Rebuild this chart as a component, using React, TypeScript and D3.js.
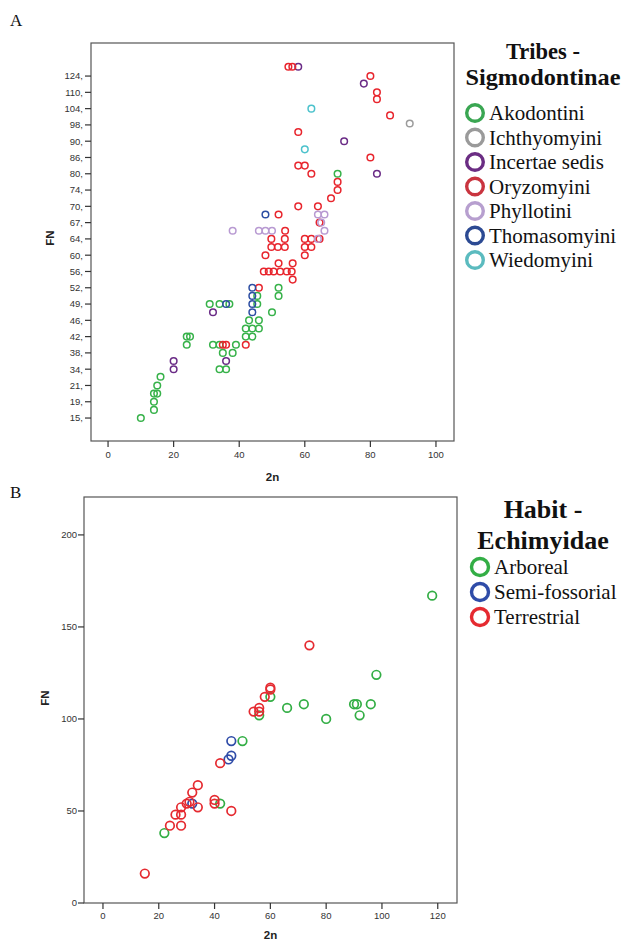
import React from "react";
import * as d3 from "d3";

// ---------- DATA ----------
// Panel A: FN axis is an ordinal (category) axis
const fnCategoriesA = [15, 19, 21, 34, 38, 42, 46, 49, 52, 56, 60, 64, 67, 70, 74, 80, 86, 90, 98, 104, 110, 124];
const fnTickLabelsA = ["15,", "19,", "21,", "34,", "38,", "42,", "46,", "49,", "52,", "56,", "60,", "64,", "67,", "70,", "74,", "80,", "86,", "90,", "98,", "104,", "110,", "124,"];
const xTicksA = [0, 20, 40, 60, 80, 100];

const tribes = ["Akodontini", "Ichthyomyini", "Incertae sedis", "Oryzomyini", "Phyllotini", "Thomasomyini", "Wiedomyini"];

// [2n, FN]
const akodontini: [number, number][] = [
  [10, 15], [14, 17], [14, 19], [14, 20], [15, 20], [15, 21], [16, 28],
  [24, 40], [24, 42], [25, 42],
  [31, 49], [34, 49], [37, 49],
  [32, 40], [34, 40], [39, 40], [35, 38], [38, 38], [34, 34], [36, 34],
  [42, 42], [44, 42], [42, 44], [44, 44], [46, 44], [43, 46], [46, 46], [45.5, 49], [45.5, 50.5],
  [50, 47.5], [52, 52], [52, 50.5],
  [70, 80],
];
const ichthyomyini: [number, number][] = [[92, 98.5]];
const incertaeSedis: [number, number][] = [
  [20, 34], [20, 36], [32, 47.5], [36, 36], [58, 132], [78, 117.5], [72, 90], [82, 80],
];
const oryzomyini: [number, number][] = [
  [35, 40], [36, 40], [42, 40], [46, 52],
  [47.5, 56], [49, 56], [50.5, 56], [52.5, 56], [54.5, 56], [56, 56], [56.3, 54], [52, 58], [56.3, 58], [48, 60],
  [49.8, 64], [53.9, 64], [49.8, 62], [51.8, 62], [53.9, 62], [54, 65.5],
  [60, 64], [62, 64], [60, 62], [62, 62], [60, 60], [64.5, 64], [64.5, 67],
  [52, 68.5], [58, 70], [64, 70], [68, 72], [70, 74], [70, 77],
  [62, 80], [58, 83], [60, 83], [80, 86], [58, 94.5],
  [55, 132], [56.2, 132], [80, 124], [82, 110], [82, 107.5], [86, 101.5],
];
const phyllotini: [number, number][] = [
  [38, 65.5], [46, 65.5], [48, 65.5], [50, 65.5], [64, 68.5], [66, 68.5], [65, 67], [66, 65.5], [64, 64],
];
const thomasomyini: [number, number][] = [[36, 49], [44, 52], [44, 50.5], [44, 49], [44, 47.5], [48, 68.5]];
const wiedomyini: [number, number][] = [[62, 104], [60, 88]];

const tribeSeries = [akodontini, ichthyomyini, incertaeSedis, oryzomyini, phyllotini, thomasomyini, wiedomyini];

// Panel B
const xTicksB = [0, 20, 40, 60, 80, 100, 120];
const yTicksB = [0, 50, 100, 150, 200];
const habits = ["Arboreal", "Semi-fossorial", "Terrestrial"];
const arboreal: [number, number][] = [
  [22, 38], [42, 54], [50, 88], [56, 102], [60, 112], [66, 106], [72, 108], [80, 100],
  [90, 108], [91, 108], [92, 102], [96, 108], [98, 124], [118, 167],
];
const semiFossorial: [number, number][] = [[32, 54], [45, 78], [46, 80], [46, 88]];
const terrestrial: [number, number][] = [
  [15, 16], [24, 42], [28, 42], [26, 48], [28, 48], [28, 52], [30, 54], [31, 55], [32, 60], [34, 64], [34, 52],
  [40, 56], [40, 54], [46, 50], [42, 76], [54, 104], [56, 104], [56, 106], [58, 112], [60, 116], [60, 117], [74, 140],
];
const habitSeries = [arboreal, semiFossorial, terrestrial];

// ---------- STYLE ----------
const tribeColors = ["#37b24a", "#9c9c9c", "#6a2b86", "#e8252d", "#b89ad2", "#2d4ea3", "#4cc2cc"];
const tribeLegendColors = ["#3aa652", "#9a9a9a", "#6b2d83", "#c9343f", "#b79fcf", "#2c4a93", "#5bbbbf"];
const habitColors = ["#33ae45", "#2f4ca8", "#e52a30"];
const SANS = "'Liberation Sans', Arial, sans-serif";
const SERIF = "'Liberation Serif', 'Times New Roman', serif";
const FRAME = "#555";

export default function App() {
  // Panel A scales
  const boxA = { l: 91, r: 454, t: 43, b: 441 };
  const xA = d3.scaleLinear().domain([-5.2, 105.5]).range([boxA.l, boxA.r]);
  const rankA = d3.scaleLinear().domain(fnCategoriesA).range(fnCategoriesA.map((_, i) => i));
  const posA = d3.scaleLinear().domain([-1.41, 23.03]).range([boxA.b, boxA.t]);
  const yA = (v: number) => posA(rankA(v));

  // Panel B scales
  const boxB = { l: 84, r: 457, t: 497, b: 903 };
  const xB = d3.scaleLinear().domain([-6.8, 126.9]).range([boxB.l, boxB.r]);
  const yB = d3.scaleLinear().domain([0, 220.6]).range([boxB.b, boxB.t]);

  return (
    <svg width={622} height={942} viewBox="0 0 622 942"
      style={{ position: "absolute", left: 0, top: 0, background: "#fff", display: "block" }}>
      <rect x={0} y={0} width={622} height={942} fill="#fff" />

      {/* ===== Panel A ===== */}
      <text x={10} y={26} fontFamily={SERIF} fontSize={17} fill="#111">A</text>
      <rect x={boxA.l} y={boxA.t} width={boxA.r - boxA.l} height={boxA.b - boxA.t} fill="none" stroke={FRAME} strokeWidth={1.2} />
      {fnCategoriesA.map((v, i) => (
        <g key={"ya" + v}>
          <line x1={boxA.l - 6} x2={boxA.l} y1={yA(v)} y2={yA(v)} stroke="#333" strokeWidth={1.2} />
          <text x={boxA.l - 8} y={yA(v)} dy="0.35em" textAnchor="end" fontFamily={SANS} fontSize={9.5} fill="#333">
            {fnTickLabelsA[i]}
          </text>
        </g>
      ))}
      {xTicksA.map((v) => (
        <g key={"xa" + v}>
          <line x1={xA(v)} x2={xA(v)} y1={boxA.b} y2={boxA.b + 6} stroke="#333" strokeWidth={1.2} />
          <text x={xA(v)} y={boxA.b + 17} textAnchor="middle" fontFamily={SANS} fontSize={9.5} fill="#333">{v}</text>
        </g>
      ))}
      <text x={(boxA.l + boxA.r) / 2} y={481} textAnchor="middle" fontFamily={SANS} fontSize={11.5} fontWeight="bold" fill="#222">2n</text>
      <text transform={`translate(54,238) rotate(-90)`} textAnchor="middle" fontFamily={SANS} fontSize={11.5} fontWeight="bold" fill="#222">FN</text>
      {tribeSeries.map((pts, si) => (
        <g key={"sa" + si}>
          {pts.map((d, j) => (
            <circle key={j} cx={xA(d[0])} cy={yA(d[1])} r={3.3} fill="none" stroke={tribeColors[si]} strokeWidth={1.5} />
          ))}
        </g>
      ))}

      {/* Legend A */}
      <text x={543} y={59} textAnchor="middle" fontFamily={SERIF} fontSize={22.5} fontWeight="bold" fill="#111">Tribes -</text>
      <text x={543} y={85} textAnchor="middle" fontFamily={SERIF} fontSize={22.5} fontWeight="bold" fill="#111"
        textLength={155} lengthAdjust="spacingAndGlyphs">Sigmodontinae</text>
      {tribes.map((t, i) => {
        const cy = 113 + i * 24.5;
        return (
          <g key={"la" + t}>
            <circle cx={475} cy={cy} r={8.3} fill="none" stroke={tribeLegendColors[i]} strokeWidth={3.4} />
            <text x={489} y={cy + 7} fontFamily={SERIF} fontSize={21} fill="#111">{t}</text>
          </g>
        );
      })}

      {/* ===== Panel B ===== */}
      <text x={10} y={498} fontFamily={SERIF} fontSize={17} fill="#111">B</text>
      <rect x={boxB.l} y={boxB.t} width={boxB.r - boxB.l} height={boxB.b - boxB.t} fill="none" stroke={FRAME} strokeWidth={1.2} />
      {yTicksB.map((v) => (
        <g key={"yb" + v}>
          <line x1={boxB.l - 6} x2={boxB.l} y1={yB(v)} y2={yB(v)} stroke="#333" strokeWidth={1.2} />
          <text x={boxB.l - 7} y={yB(v)} dy="0.35em" textAnchor="end" fontFamily={SANS} fontSize={9.5} fill="#333">{v}</text>
        </g>
      ))}
      {xTicksB.map((v) => (
        <g key={"xb" + v}>
          <line x1={xB(v)} x2={xB(v)} y1={boxB.b} y2={boxB.b + 6} stroke="#333" strokeWidth={1.2} />
          <text x={xB(v)} y={boxB.b + 16} textAnchor="middle" fontFamily={SANS} fontSize={9.5} fill="#333">{v}</text>
        </g>
      ))}
      <text x={(boxB.l + boxB.r) / 2} y={939} textAnchor="middle" fontFamily={SANS} fontSize={11.5} fontWeight="bold" fill="#222">2n</text>
      <text transform={`translate(49,698) rotate(-90)`} textAnchor="middle" fontFamily={SANS} fontSize={11.5} fontWeight="bold" fill="#222">FN</text>
      {habitSeries.map((pts, si) => (
        <g key={"sb" + si}>
          {pts.map((d, j) => (
            <circle key={j} cx={xB(d[0])} cy={yB(d[1])} r={4.3} fill="none" stroke={habitColors[si]} strokeWidth={1.7} />
          ))}
        </g>
      ))}

      {/* Legend B */}
      <text x={543} y={518} textAnchor="middle" fontFamily={SERIF} fontSize={26} fontWeight="bold" fill="#111">Habit -</text>
      <text x={543} y={549} textAnchor="middle" fontFamily={SERIF} fontSize={26} fontWeight="bold" fill="#111">Echimyidae</text>
      {habits.map((h, i) => {
        const cy = 567 + i * 25;
        return (
          <g key={"lb" + h}>
            <circle cx={480} cy={cy} r={8.5} fill="none" stroke={habitColors[i]} strokeWidth={3.4} />
            <text x={494} y={cy + 7} fontFamily={SERIF} fontSize={21} fill="#111">{h}</text>
          </g>
        );
      })}
    </svg>
  );
}
